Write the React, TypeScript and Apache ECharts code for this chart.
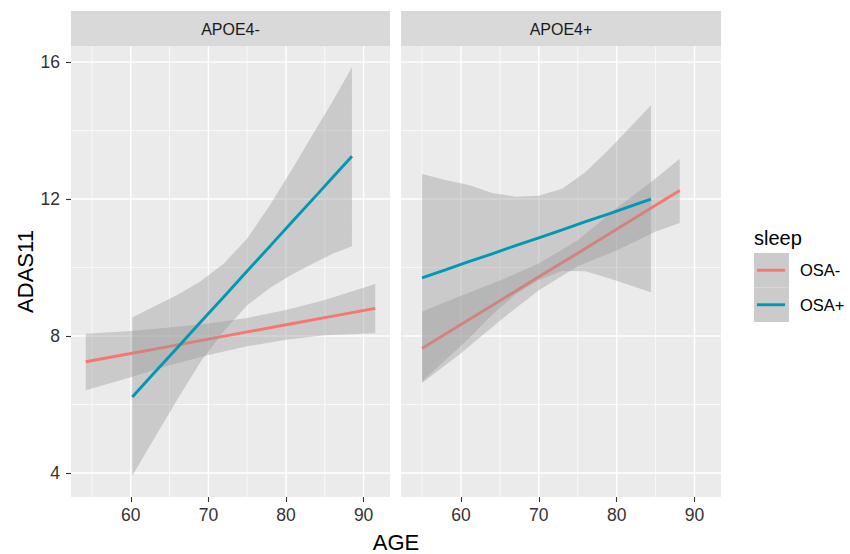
import React, { useEffect, useRef } from "react";
import * as echarts from "echarts";

const facets = ["APOE4-", "APOE4+"];
const groups = ["OSA-", "OSA+"];
const groupColors = ["#F8766D", "#0098B6"];
const xTitle = "AGE";
const yTitle = "ADAS11";
const legendTitle = "sleep";

const xTicks = [60, 70, 80, 90];
const xMinorTicks = [55, 65, 75, 85];
const yTicks = [4, 8, 12, 16];
const yMinorTicks = [6, 10, 14];

// Panel APOE4-, OSA-
const negMinusAge = [54.2, 60, 65, 70, 75, 80, 85, 91.5];
const negMinusFit = [7.25, 7.49, 7.7, 7.91, 8.12, 8.33, 8.54, 8.81];
const negMinusUpper = [8.07, 8.15, 8.25, 8.37, 8.53, 8.76, 9.05, 9.52];
const negMinusLower = [6.42, 6.8, 7.15, 7.45, 7.7, 7.89, 8.02, 8.08];

// Panel APOE4-, OSA+
const negPlusAge = [60.2, 63, 66, 69, 72, 75, 78, 81, 84, 86, 88.5];
const negPlusFit = [6.22, 6.92, 7.66, 8.41, 9.15, 9.9, 10.64, 11.39, 12.13, 12.63, 13.25];
const negPlusUpper = [8.54, 8.86, 9.2, 9.6, 10.12, 10.85, 11.85, 12.95, 14.1, 14.85, 15.85];
const negPlusLower = [3.92, 5.0, 6.15, 7.25, 8.15, 8.9, 9.42, 9.83, 10.18, 10.4, 10.62];

// Panel APOE4+, OSA-
const posMinusAge = [55, 60, 65, 70, 75, 80, 85, 88.1];
const posMinusFit = [7.64, 8.34, 9.03, 9.73, 10.42, 11.12, 11.82, 12.25];
const posMinusUpper = [8.72, 9.18, 9.62, 10.12, 10.8, 11.74, 12.6, 13.18];
const posMinusLower = [6.63, 7.5, 8.45, 9.34, 10.04, 10.5, 11.05, 11.3];

// Panel APOE4+, OSA+
const posPlusAge = [55, 58, 61, 64, 67, 70, 73, 76, 79, 82, 84.4];
const posPlusFit = [9.7, 9.93, 10.17, 10.4, 10.64, 10.87, 11.1, 11.34, 11.57, 11.81, 12.0];
const posPlusUpper = [12.73, 12.56, 12.41, 12.18, 12.07, 12.1, 12.3, 12.79, 13.45, 14.16, 14.74];
const posPlusLower = [6.67, 7.3, 7.93, 8.62, 9.21, 9.64, 9.9, 9.89, 9.69, 9.46, 9.28];

const X_MIN = 52.3;
const X_MAX = 93.4;
const Y_MIN = 3.3;
const Y_MAX = 16.47;

const FONT = "'Liberation Sans', Arial, sans-serif";
const RIBBON_FILL = "rgba(153,153,153,0.4)";

const gridLineSeries = (gi: number) => ({
  type: "custom",
  xAxisIndex: gi,
  yAxisIndex: gi,
  z: 1,
  silent: true,
  data: [[xTicks[0], yTicks[0]]],
  renderItem: (params: any, api: any) => {
    const cs = params.coordSys;
    const children: any[] = [];
    const vline = (v: number, w: number) => {
      const x = api.coord([v, yTicks[0]])[0];
      children.push({
        type: "line",
        shape: { x1: x, y1: cs.y, x2: x, y2: cs.y + cs.height },
        style: { stroke: "#FFFFFF", lineWidth: w },
      });
    };
    const hline = (v: number, w: number) => {
      const y = api.coord([xTicks[0], v])[1];
      children.push({
        type: "line",
        shape: { x1: cs.x, y1: y, x2: cs.x + cs.width, y2: y },
        style: { stroke: "#FFFFFF", lineWidth: w },
      });
    };
    xMinorTicks.forEach((v) => vline(v, 0.7));
    yMinorTicks.forEach((v) => hline(v, 0.7));
    xTicks.forEach((v) => vline(v, 1.4));
    yTicks.forEach((v) => hline(v, 1.4));
    return { type: "group", children };
  },
});

const ribbonSeries = (gi: number, name: string, ages: number[], lower: number[], upper: number[], z: number) => ({
  type: "custom",
  name,
  xAxisIndex: gi,
  yAxisIndex: gi,
  z,
  silent: true,
  data: ages.map((a, i) => [a, lower[i], upper[i]]),
  encode: { x: 0, y: [1, 2] },
  renderItem: (params: any, api: any) => {
    if (params.dataIndex !== 0) return null;
    const pts: number[][] = [];
    ages.forEach((a, i) => pts.push(api.coord([a, upper[i]])));
    for (let i = ages.length - 1; i >= 0; i--) pts.push(api.coord([ages[i], lower[i]]));
    return { type: "polygon", shape: { points: pts, smooth: 0 }, style: { fill: RIBBON_FILL } };
  },
});

const lineSeries = (gi: number, name: string, ages: number[], fit: number[], color: string, z: number) => ({
  type: "line",
  name,
  xAxisIndex: gi,
  yAxisIndex: gi,
  z,
  silent: true,
  symbol: "none",
  showSymbol: false,
  data: ages.map((a, i) => [a, fit[i]]),
  lineStyle: { color, width: 2.9 },
  itemStyle: { color },
});

const xAxisFor = (gi: number) => ({
  type: "value",
  gridIndex: gi,
  min: X_MIN,
  max: X_MAX,
  axisLine: { show: false },
  splitLine: { show: false },
  axisTick: { show: true, customValues: xTicks, length: 5, lineStyle: { color: "#333333", width: 1.1 } },
  axisLabel: { customValues: xTicks, fontSize: 17.5, color: "#333333", margin: 9, fontFamily: FONT },
});

const yAxisFor = (gi: number) => ({
  type: "value",
  gridIndex: gi,
  min: Y_MIN,
  max: Y_MAX,
  axisLine: { show: false },
  splitLine: { show: false },
  axisTick: { show: gi === 0, customValues: yTicks, length: 5, lineStyle: { color: "#333333", width: 1.1 } },
  axisLabel: { show: gi === 0, customValues: yTicks, fontSize: 17.5, color: "#333333", margin: 11, fontFamily: FONT },
});

const panels = [
  { left: 71, width: 319 },
  { left: 401, width: 320 },
];
const PANEL_TOP = 46;
const PANEL_H = 451;
const STRIP_TOP = 11;

const legendX = 754;
const legendKeyTop = 253;
const legendKeyH = 34.5;
const legendKeyW = 35;

function buildOption() {
  const graphics: any[] = [];
  panels.forEach((p, i) => {
    graphics.push({
      type: "rect",
      shape: { x: p.left, y: STRIP_TOP, width: p.width, height: PANEL_TOP - STRIP_TOP },
      style: { fill: "#D9D9D9" },
      silent: true,
    });
    graphics.push({
      type: "text",
      x: p.left + p.width / 2,
      y: (STRIP_TOP + PANEL_TOP) / 2 + 1,
      style: {
        text: facets[i],
        fontSize: 16,
        fontFamily: FONT,
        fill: "#1A1A1A",
        textAlign: "center",
        textVerticalAlign: "middle",
      },
      silent: true,
    });
  });
  graphics.push({
    type: "text",
    x: (panels[0].left + panels[1].left + panels[1].width) / 2,
    y: 542,
    style: { text: xTitle, fontSize: 22, fontFamily: FONT, fill: "#000000", textAlign: "center", textVerticalAlign: "middle" },
    silent: true,
  });
  graphics.push({
    type: "text",
    x: 25,
    y: PANEL_TOP + PANEL_H / 2,
    rotation: Math.PI / 2,
    style: { text: yTitle, fontSize: 22, fontFamily: FONT, fill: "#000000", textAlign: "center", textVerticalAlign: "middle" },
    silent: true,
  });
  graphics.push({
    type: "text",
    x: legendX,
    y: 238,
    style: { text: legendTitle, fontSize: 20, fontFamily: FONT, fill: "#000000", textAlign: "left", textVerticalAlign: "middle" },
    silent: true,
  });
  groups.forEach((g, i) => {
    const top = legendKeyTop + i * legendKeyH;
    graphics.push({
      type: "rect",
      shape: { x: legendX, y: top, width: legendKeyW, height: legendKeyH },
      style: { fill: "#EDEDED" },
      silent: true,
    });
    graphics.push({
      type: "rect",
      shape: { x: legendX, y: top, width: legendKeyW, height: legendKeyH },
      style: { fill: RIBBON_FILL },
      silent: true,
    });
    graphics.push({
      type: "line",
      shape: { x1: legendX + 3, y1: top + legendKeyH / 2, x2: legendX + legendKeyW - 4, y2: top + legendKeyH / 2 },
      style: { stroke: groupColors[i], lineWidth: 2.9 },
      silent: true,
    });
    graphics.push({
      type: "text",
      x: legendX + 46,
      y: top + legendKeyH / 2,
      style: { text: g, fontSize: 16.5, fontFamily: FONT, fill: "#000000", textAlign: "left", textVerticalAlign: "middle" },
      silent: true,
    });
  });

  return {
    animation: false,
    backgroundColor: "#FFFFFF",
    textStyle: { fontFamily: FONT },
    grid: panels.map((p) => ({
      left: p.left,
      top: PANEL_TOP,
      width: p.width,
      height: PANEL_H,
      show: true,
      backgroundColor: "#EBEBEB",
      borderWidth: 0,
      containLabel: false,
    })),
    xAxis: [xAxisFor(0), xAxisFor(1)],
    yAxis: [yAxisFor(0), yAxisFor(1)],
    series: [
      gridLineSeries(0),
      gridLineSeries(1),
      ribbonSeries(0, groups[0], negMinusAge, negMinusLower, negMinusUpper, 2),
      lineSeries(0, groups[0], negMinusAge, negMinusFit, groupColors[0], 3),
      ribbonSeries(0, groups[1], negPlusAge, negPlusLower, negPlusUpper, 4),
      lineSeries(0, groups[1], negPlusAge, negPlusFit, groupColors[1], 5),
      ribbonSeries(1, groups[0], posMinusAge, posMinusLower, posMinusUpper, 2),
      lineSeries(1, groups[0], posMinusAge, posMinusFit, groupColors[0], 3),
      ribbonSeries(1, groups[1], posPlusAge, posPlusLower, posPlusUpper, 4),
      lineSeries(1, groups[1], posPlusAge, posPlusFit, groupColors[1], 5),
    ],
    graphic: graphics,
  };
}

export default function App() {
  const ref = useRef<HTMLDivElement>(null);
  useEffect(() => {
    document.body.style.margin = "0";
    const chart = echarts.init(ref.current as HTMLDivElement, null, { renderer: "svg" });
    chart.setOption(buildOption() as any);
    return () => {
      chart.dispose();
    };
  }, []);
  return (
    <div
      ref={ref}
      style={{ position: "absolute", left: 0, top: 0, width: 850, height: 554, background: "#FFFFFF" }}
    />
  );
}
